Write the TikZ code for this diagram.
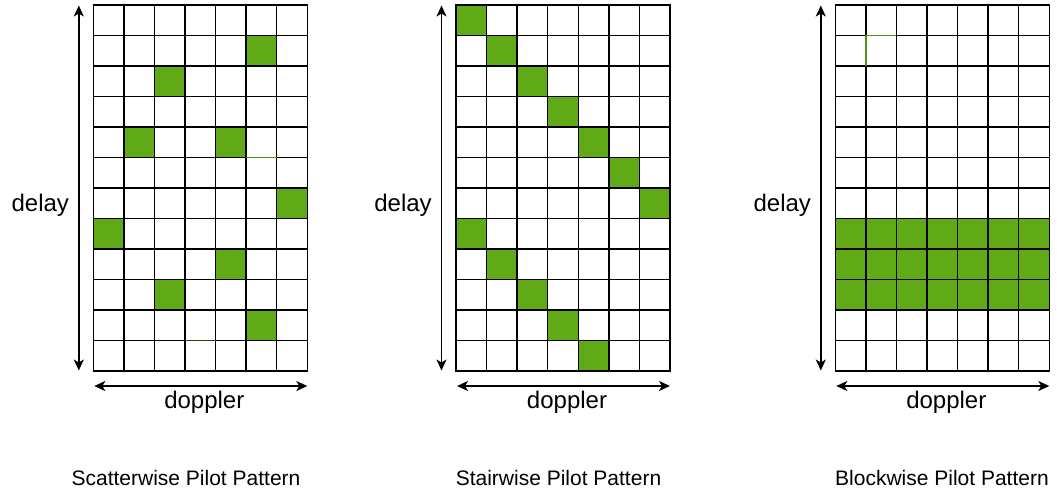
\documentclass[tikz,border=0pt]{standalone}
\usepackage{fontspec}
\setmainfont{Liberation Sans}
\usetikzlibrary{arrows.meta}

\definecolor{pilotgreen}{HTML}{60A917}
\definecolor{pilotedge}{HTML}{2D7600}

\tikzset{
  pilot/.style={fill=pilotgreen, draw=pilotedge, line width=1pt},
  gridline/.style={draw=black, line width=1.4pt, line cap=rect},
  strayedge/.style={draw=pilotgreen!85!black, line width=1.3pt},
  axis/.style={line width=1.4pt, {Stealth[length=11pt,width=10pt,inset=3pt]}-{Stealth[length=11pt,width=10pt,inset=3pt]}},
  axislabel/.style={anchor=base, inner sep=0pt, font=\fontsize{24}{28}\selectfont},
  caption/.style={anchor=base, inner sep=0pt, font=\fontsize{21}{25}\selectfont},
}

% cell size of the 7 x 12 resource grid
\newcommand\cw{30.57}
\newcommand\ch{30.5}

% #1 panel name, #2 left edge, #3 pilot cells (column/row), #4 caption, #5 caption centre
\newcommand\pilotpanel[5]{%
  \begin{scope}[shift={(#2,5)}]
    \foreach \c/\r in {#3}
      \path[pilot] (\c*\cw,\r*\ch) rectangle ++(\cw,\ch);
    \foreach \i in {0,...,7}
      \draw[gridline] (\i*\cw,0) -- (\i*\cw,12*\ch);
    \foreach \j in {0,...,12}
      \draw[gridline] (0,\j*\ch) -- (7*\cw,\j*\ch);
    % delay axis
    \coordinate (#1-dtop) at (-14.5,0.5);
    \coordinate (#1-dbot) at (-14.5,365.5);
    \draw[axis] (#1-dtop) -- (#1-dbot);
    % doppler axis
    \coordinate (#1-fl) at (1,381);
    \coordinate (#1-fr) at (214,381);
    \draw[axis] (#1-fl) -- (#1-fr);
    \node[axislabel] (#1-delay) at (-53,206.5) {delay};
    \node[axislabel] (#1-doppler) at (111,403.3) {doppler};
  \end{scope}
  \node[caption] (#1-caption) at (#5,485) {#4};
}

\begin{document}
\begin{tikzpicture}[x=1pt,y=-1pt]
  \useasboundingbox[fill=white] (0,0) rectangle (1057,493);

  \pilotpanel{scatter}{93.3}{5/1,2/2,1/4,4/4,6/6,0/7,4/8,2/9,5/10}{Scatterwise Pilot Pattern}{186}
  % faint green edges left on two cells
  \draw[strayedge] (93.3+5*\cw,5+5*\ch) -- ++(\cw,0);
  \draw[strayedge, draw opacity=0.5] (93.3+3*\cw,5+11*\ch) -- ++(\cw,0);

  \pilotpanel{stair}{456}{0/0,1/1,2/2,3/3,4/4,5/5,6/6,0/7,1/8,2/9,3/10,4/11}{Stairwise Pilot Pattern}{558.5}

  \pilotpanel{block}{835.3}{0/7,1/7,2/7,3/7,4/7,5/7,6/7,0/8,1/8,2/8,3/8,4/8,5/8,6/8,0/9,1/9,2/9,3/9,4/9,5/9,6/9}{Blockwise Pilot Pattern}{942}
  \draw[strayedge] (835.3+\cw,5+2*\ch) -- ++(0,-\ch) -- ++(\cw,0);
\end{tikzpicture}
\end{document}
